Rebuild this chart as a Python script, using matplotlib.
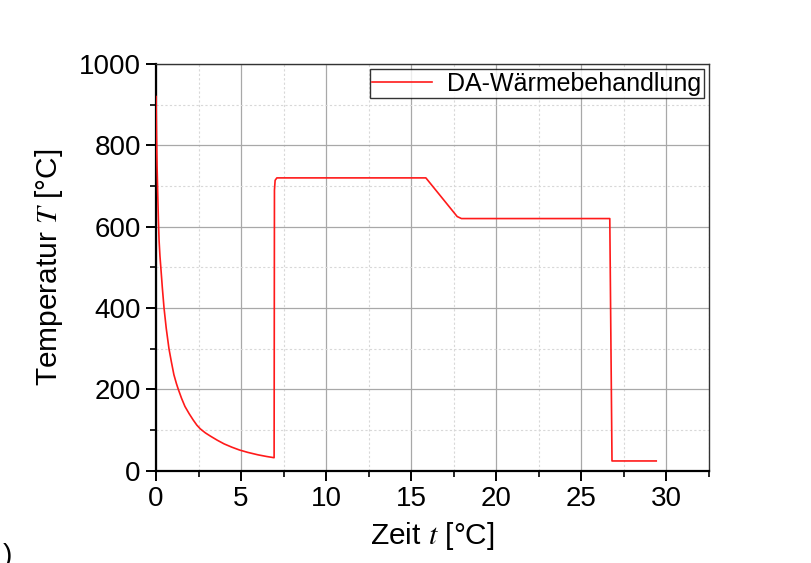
import matplotlib
matplotlib.use("Agg")
import matplotlib.pyplot as plt
from matplotlib.ticker import MultipleLocator

plt.rcParams['font.family'] = ['Liberation Sans', 'DejaVu Sans']
plt.rcParams['mathtext.fontset'] = 'stix'

# Temperature profile of the DA heat treatment
time_min = [0.0, 0.03, 0.06, 0.1, 0.14, 0.18, 0.23, 0.29, 0.37, 0.47, 0.6,
            0.76, 0.9, 1.05, 1.2, 1.31, 1.5, 1.7, 1.95, 2.18, 2.4, 2.6, 2.9,
            3.2, 3.6, 4.0, 4.45, 4.9, 5.4, 6.0, 6.5, 6.94,
            6.96, 7.0, 7.1, 15.86, 17.7, 17.95, 26.67, 26.8, 29.4]
temp_c = [920, 820, 750, 680, 615, 565, 528, 495, 450, 400, 350,
          300, 268, 236, 214, 200, 178, 158, 140, 125, 112, 103, 93,
          85, 75, 66, 58, 51, 45, 39, 35, 32,
          690, 714, 720, 720, 625, 620, 620, 24, 24]

x_ticks = [0, 5, 10, 15, 20, 25, 30]
y_ticks = [0, 200, 400, 600, 800, 1000]
series_label = 'DA-Wärmebehandlung'

fig = plt.figure(figsize=(8.11, 5.63), dpi=100)
ax = fig.add_axes([0.1924, 0.1639, 0.8742 - 0.1924, 0.8863 - 0.1639])

ax.plot(time_min, temp_c, color='#ff1a1a', lw=1.2, label=series_label, zorder=3)

ax.set_xlim(0, 32.5)
ax.set_ylim(0, 1000)
ax.set_xticks(x_ticks)
ax.set_yticks(y_ticks)
ax.xaxis.set_minor_locator(MultipleLocator(2.5))
ax.yaxis.set_minor_locator(MultipleLocator(100))

ax.grid(which='major', color='#a8a8a8', lw=0.9, ls='-')
ax.grid(which='minor', color='#d8d8d8', lw=0.8, ls=(0, (2, 2)))
ax.set_axisbelow(True)

for side in ['left', 'bottom']:
    ax.spines[side].set_linewidth(1.6)
    ax.spines[side].set_color('black')
for side in ['top', 'right']:
    ax.spines[side].set_linewidth(1.0)
    ax.spines[side].set_color('#333333')

ax.tick_params(which='major', direction='out', length=7, width=1.4,
               labelsize=20, top=False, right=False, pad=4)
ax.tick_params(which='minor', direction='out', length=4, width=1.2,
               top=False, right=False)

ax.set_xlabel('Zeit $t$ [°C]', fontsize=21.5, labelpad=6)
ax.set_ylabel('Temperatur $T$ [°C]', fontsize=21.5, labelpad=10)

leg = ax.legend(loc='upper right', fontsize=18, frameon=True, fancybox=False,
                edgecolor='black', handlelength=2.4, borderpad=0.1,
                borderaxespad=0.2, handletextpad=0.6)
leg.get_frame().set_linewidth(1.0)

fig.text(0.004, 1 - 556 / 563, ')', fontsize=20, va='center', ha='left')

fig.savefig('out.png', dpi=100)
